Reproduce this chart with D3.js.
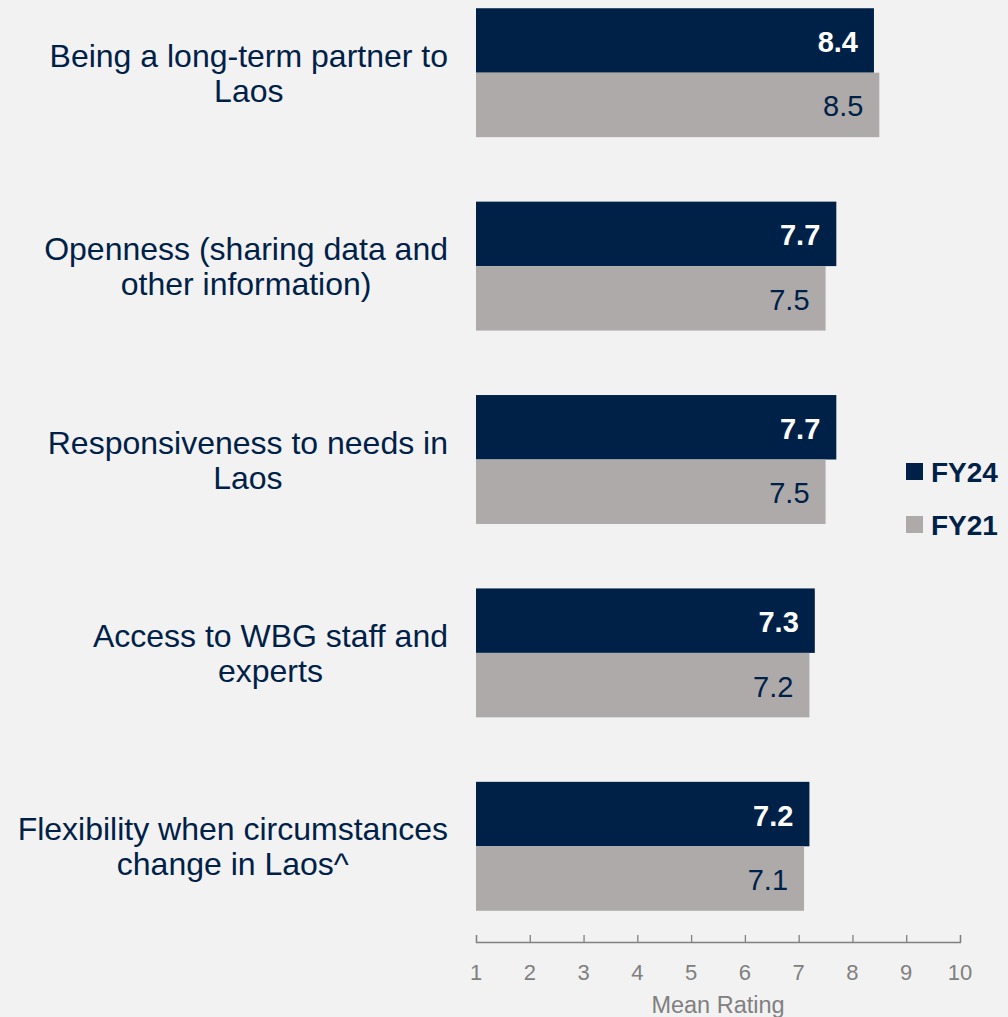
<!DOCTYPE html>
<html>
<head>
<meta charset="utf-8">
<script src="https://cdn.jsdelivr.net/npm/d3@7"></script>
<style>
  body { margin: 0; background: #f2f2f2; }
  svg { display: block; font-family: "Liberation Sans", Arial, Helvetica, sans-serif; }
</style>
</head>
<body>
<div class="canvas"></div>
<script>
// chart data
const categories = [
  "Being a long-term partner to|Laos",
  "Openness (sharing data and|other information)",
  "Responsiveness to needs in|Laos",
  "Access to WBG staff and|experts",
  "Flexibility when circumstances|change in Laos^"
];
const seriesNames = ["FY24", "FY21"];
const fy24 = [8.4, 7.7, 7.7, 7.3, 7.2];
const fy21 = [8.5, 7.5, 7.5, 7.2, 7.1];
const ticks = [1, 2, 3, 4, 5, 6, 7, 8, 9, 10];

const navy = '#002147';
const grey = '#aeaaaa';

const svg = d3.select('.canvas')
  .append('svg')
  .attr('width', 1008)
  .attr('height', 1017);

svg.append('rect').attr('width', 1008).attr('height', 1017).attr('fill', '#f2f2f2');

const x = d3.scaleLinear()
  .domain([1, 10])
  .range([476, 960]);

const y = d3.scaleBand()
  .domain(categories)
  .range([-24, 943])
  .paddingInner(1 / 3)
  .paddingOuter(1 / 6);

const ySub = d3.scaleBand()
  .domain(seriesNames)
  .range([0, y.bandwidth()]);

const rows = categories.map((c, i) => ({cat: c, values: [fy24[i], fy21[i]]}));

const groups = svg.selectAll('g.group')
  .data(rows)
  .enter()
  .append('g')
  .attr('class', 'group')
  .attr('transform', d => `translate(0,${y(d.cat)})`);

// bars
groups.selectAll('rect')
  .data(d => d.values.map((v, j) => ({name: seriesNames[j], value: v})))
  .enter()
  .append('rect')
  .attr('x', x(1))
  .attr('y', d => ySub(d.name))
  .attr('width', d => x(d.value) - x(1))
  .attr('height', ySub.bandwidth())
  .attr('fill', d => d.name === 'FY24' ? navy : grey);

// value labels
groups.selectAll('text.val')
  .data(d => d.values.map((v, j) => ({name: seriesNames[j], value: v})))
  .enter()
  .append('text')
  .attr('class', 'val')
  .attr('x', d => x(d.value) - 16)
  .attr('y', d => ySub(d.name) + ySub.bandwidth() / 2 + 1)
  .attr('dy', '0.36em')
  .attr('text-anchor', 'end')
  .attr('font-size', 29)
  .attr('font-weight', d => d.name === 'FY24' ? 'bold' : 'normal')
  .attr('fill', d => d.name === 'FY24' ? '#ffffff' : navy)
  .text(d => d.value.toFixed(1));

// category labels, centred block right-aligned at 448
groups.each(function(d) {
  const g = d3.select(this);
  const lines = d.cat.split('|');
  const t = g.append('text')
    .attr('font-size', 32)
    .attr('fill', navy)
    .attr('text-anchor', 'middle');
  const spans = lines.map((l, k) => t.append('tspan')
    .attr('y', y.bandwidth() / 2 + (k - (lines.length - 1) / 2) * 35)
    .attr('dy', '0.36em')
    .text(l));
  const maxW = d3.max(spans, s => s.node().getComputedTextLength());
  spans.forEach(s => s.attr('x', 448 - maxW / 2));
});

// x axis
const axis = svg.append('g')
  .attr('transform', 'translate(0,942)')
  .call(d3.axisTop(x).tickValues(ticks).tickSize(7).tickFormat(''));
axis.selectAll('path, line').attr('stroke', '#808080').attr('stroke-width', 1.3);

svg.selectAll('text.tick')
  .data(ticks)
  .enter()
  .append('text')
  .attr('class', 'tick')
  .attr('x', d => x(d))
  .attr('y', 980)
  .attr('text-anchor', 'middle')
  .attr('font-size', 22)
  .attr('fill', '#808080')
  .text(d => d);

svg.append('text')
  .attr('x', 718)
  .attr('y', 1013)
  .attr('text-anchor', 'middle')
  .attr('font-size', 23.5)
  .attr('fill', '#808080')
  .text('Mean Rating');

// legend
const legend = svg.selectAll('g.legend')
  .data(seriesNames)
  .enter()
  .append('g')
  .attr('class', 'legend')
  .attr('transform', (d, i) => `translate(906,${472 + i * 53})`);

legend.append('rect')
  .attr('x', 0)
  .attr('y', -9)
  .attr('width', 17)
  .attr('height', 17)
  .attr('fill', d => d === 'FY24' ? navy : grey);

legend.append('text')
  .attr('x', 25)
  .attr('dy', '0.36em')
  .attr('font-size', 28)
  .attr('font-weight', 'bold')
  .attr('fill', navy)
  .text(d => d);
</script>
</body>
</html>
